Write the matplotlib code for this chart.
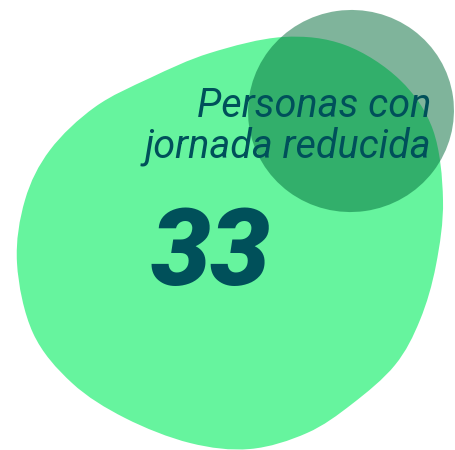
import matplotlib.pyplot as plt
from matplotlib.path import Path
from matplotlib.patches import PathPatch, Ellipse
import numpy as np

# outline of the light green blob (pixel coords, y down)
blob_x = [17, 25, 50, 95, 150, 210, 283, 345, 400, 433, 443, 436, 420, 395,
          352, 307, 250, 190, 125, 72, 33]
blob_y = [263, 200, 150, 107, 78, 53, 37, 45, 80, 130, 200, 265, 320, 365,
          404, 433, 449, 443, 418, 383, 333]

# darker overlapping ellipse
ell_center = (351, 111)
ell_size = (206, 202)

label_lines = ["Personas con", "jornada reducida"]
value_text = "33"

text_color = "#00505A"
blob_color = "#66F49E"
ell_color = "#006B39"

fig = plt.figure(figsize=(4.56, 4.50), dpi=100)
ax = fig.add_axes([0, 0, 1, 1])
ax.set_xlim(0, 456)
ax.set_ylim(450, 0)
ax.axis("off")

# smooth closed path through the blob points (catmull-rom -> bezier)
pts = np.column_stack([blob_x, blob_y]).astype(float)
n = len(pts)
verts = [pts[0]]
codes = [Path.MOVETO]
for i in range(n):
    p0, p1, p2, p3 = pts[i - 1], pts[i], pts[(i + 1) % n], pts[(i + 2) % n]
    c1 = p1 + (p2 - p0) / 6
    c2 = p2 - (p3 - p1) / 6
    verts += [c1, c2, p2]
    codes += [Path.CURVE4] * 3
ax.add_patch(PathPatch(Path(verts, codes), facecolor=blob_color, edgecolor="none"))

ax.add_patch(Ellipse(ell_center, ell_size[0], ell_size[1], angle=-8,
                     facecolor=ell_color, alpha=0.5, edgecolor="none"))

ax.text(431, 117, label_lines[0], ha="right", va="baseline", fontsize=28.5,
        family="Roboto", style="italic", color=text_color)
ax.text(431, 158, label_lines[1], ha="right", va="baseline", fontsize=28.5,
        family="Roboto", style="italic", color=text_color)
ax.text(151, 285, value_text, ha="left", va="baseline", fontsize=77,
        family="Roboto", style="italic", fontweight="black", color=text_color)

fig.savefig("out.png", dpi=100)
